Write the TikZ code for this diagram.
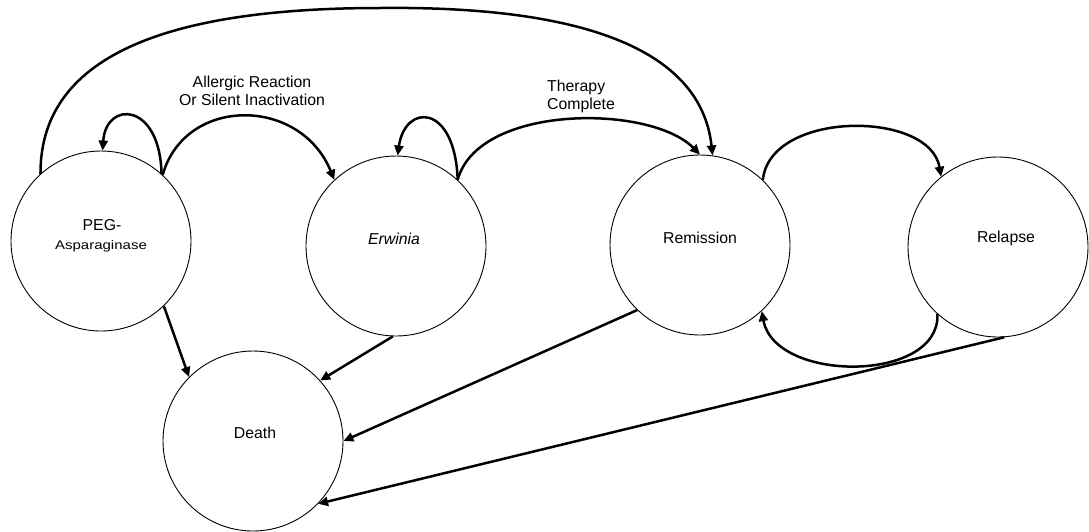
\documentclass[tikz,border=0pt]{standalone}
\usepackage{fontspec}
\setmainfont{Liberation Sans}
\usepackage{graphicx}
\usetikzlibrary{arrows.meta}
\begin{document}
\begin{tikzpicture}[x=1pt,y=-1pt,
  state/.style={circle, draw, line width=0.9pt, minimum size=180pt, inner sep=0pt},
  txt/.style={font=\fontsize{15.8}{18}\selectfont, align=center, inner sep=0pt},
  arr/.style={line width=2.5pt, -{Triangle[length=10pt,width=9pt]}}]
\useasboundingbox (0,0) rectangle (1089,531);
% states
\node[state] (peg) at (101,241) {};
\node[state] (erw) at (396,246) {};
\node[state] (rem) at (700,245) {};
\node[state] (rel) at (998,247) {};
\node[state] (death) at (253,441) {};
% state texts
\node[txt] (pegt1) at (102,225) {PEG-};
\node[txt, font=\fontsize{12.5}{14}\selectfont] (pegt2) at (101,246) {\scalebox{1.2}[1]{Asparaginase}};
\node[txt] (erwt) at (394,239) {\itshape Erwinia};
\node[txt] (remt) at (700,238) {Remission};
\node[txt] (relt) at (1006,238) {Relapse};
\node[txt] (deatht) at (255,433) {Death};
% edge labels
\node[txt] (allerg) at (252,91) {Allergic Reaction\\Or Silent Inactivation};
\node[txt, align=left, anchor=west] (ther) at (547,96) {Therapy\\Complete};
% connectors
\draw[arr] (peg.48) .. controls (160,102) and (106,100) .. (peg.89);
\draw[arr] (peg.47) .. controls (185,96) and (300,96) .. (erw.133);
\draw[arr] (peg.132) .. controls (40,50) and (180,8) .. (380,8)
                     .. controls (560,6) and (700,40) .. (rem.82);
\draw[arr] (erw.47) .. controls (455,103) and (405,103) .. (erw.89);
\draw[arr] (erw.47) .. controls (478,104) and (650,104) .. (rem.90);
\draw[arr] (rem.46) .. controls (770,110) and (930,110) .. (rel.129);
\draw[arr] (rel.228) .. controls (940,383) and (775,383) .. (rem.313);
\draw[arr] (peg.314) -- (death.135);
\draw[arr] (erw.268) -- (death.42);
\draw[arr] (rem.226) -- (death.0);
\draw[arr] (rel.274) -- (death.316);
\end{tikzpicture}
\end{document}
